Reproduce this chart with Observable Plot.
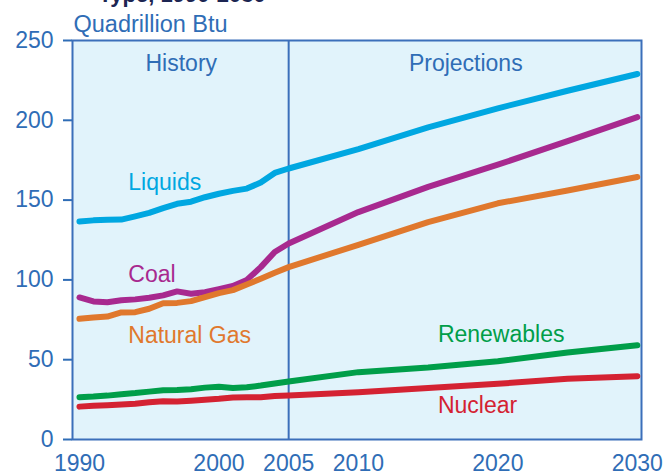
<!DOCTYPE html>
<html>
<head>
<meta charset="utf-8">
<script src="https://cdn.jsdelivr.net/npm/d3@7"></script>
<script src="https://cdn.jsdelivr.net/npm/@observablehq/plot@0.6"></script>
<style>
  html, body { margin: 0; padding: 0; background: #ffffff; }
  #chart svg g[aria-label="y-axis tick"] path, #chart svg g[aria-label="y-axis"] line { stroke-width: 2; }
</style>
</head>
<body>
<div id="chart"></div>
<script>
// ---- Data ----
const years = [1990, 1991, 1992, 1993, 1994, 1995, 1996, 1997, 1998, 1999, 2000, 2001, 2002, 2003, 2004, 2005, 2010, 2015, 2020, 2025, 2030];
const liquids    = [136.6, 137.3, 137.7, 137.8, 139.8, 142.0, 145.0, 147.7, 149.0, 151.8, 154.0, 155.8, 157.2, 161.0, 167.0, 169.8, 182.0, 195.5, 207.5, 218.5, 229.0];
const coal       = [89.0, 86.5, 86.0, 87.2, 87.8, 88.8, 90.3, 92.8, 91.3, 92.3, 94.2, 96.2, 100.0, 108.0, 117.5, 122.8, 142.5, 158.3, 172.2, 187.0, 202.0];
const naturalGas = [75.6, 76.5, 77.0, 79.6, 79.8, 81.9, 85.4, 85.6, 86.7, 89.2, 91.7, 93.6, 97.1, 100.7, 104.5, 108.0, 122.0, 136.2, 148.0, 156.0, 164.5];
const renewables = [26.5, 26.9, 27.5, 28.4, 29.1, 30.0, 30.8, 31.0, 31.5, 32.5, 33.1, 32.2, 32.7, 33.8, 35.1, 36.3, 42.2, 45.1, 49.0, 54.5, 59.0];
const nuclear    = [20.6, 21.1, 21.5, 21.9, 22.4, 23.3, 24.0, 23.8, 24.3, 24.9, 25.5, 26.3, 26.5, 26.5, 27.3, 27.6, 29.6, 32.3, 34.9, 38.0, 39.7];

const seriesNames = ["Liquids", "Coal", "Natural Gas", "Renewables", "Nuclear"];
const seriesValues = [liquids, coal, naturalGas, renewables, nuclear];
const seriesColors = ["#00a7e1", "#a8298f", "#e0782d", "#009e49", "#d42232"];

const xTicks = [1990, 2000, 2005, 2010, 2020, 2030];
const yTicks = [0, 50, 100, 150, 200, 250];
const periodNames = ["History", "Projections"];
const unitLabel = "Quadrillion Btu";
const titleText = "Type, 1990-2030";
const dividerYear = 2005;

// ---- Annotation placement (in data coordinates) ----
const labelYears  = [1993.5, 1993.5, 1993.5, 2015.7, 2015.7];
const labelValues = [161.1, 103.2, 64.8, 65.6, 21.1];
const periodYears = [1997.3, 2017.7];
const periodValue = 235.2;

// ---- Build tables ----
const table = seriesNames.flatMap((s, i) =>
  years.map((yr, j) => ({series: s, year: yr, value: seriesValues[i][j]})));
const labelTable = seriesNames.map((s, i) => ({series: s, year: labelYears[i], value: labelValues[i]}));
const periodTable = periodNames.map((p, i) => ({text: p, year: periodYears[i], value: periodValue}));

const axisBlue = "#2f6db6";
const frameBlue = "#3b6fba";
const bg = "#e1f3fb";

const chart = Plot.plot({
  width: 664,
  height: 475,
  marginLeft: 72,
  marginRight: 23,
  marginTop: 40,
  marginBottom: 36,
  style: {
    fontFamily: "'Liberation Sans', Arial, Helvetica, sans-serif",
    fontSize: "23px",
    color: axisBlue,
    background: "transparent",
    overflow: "visible"
  },
  x: {domain: [1989.5, 2030.3], ticks: xTicks, tickFormat: d => String(d), tickSize: 0, tickPadding: 15, label: null},
  y: {domain: [0, 250], ticks: yTicks, tickSize: 9, tickPadding: 10, label: null},
  color: {domain: seriesNames, range: seriesColors},
  marks: [
    Plot.frame({fill: bg, stroke: frameBlue, strokeWidth: 2}),
    Plot.ruleX([dividerYear], {stroke: frameBlue, strokeWidth: 2}),
    Plot.line(table, {x: "year", y: "value", z: "series", stroke: "series", strokeWidth: 6, strokeLinejoin: "round"}),
    Plot.text(labelTable, {x: "year", y: "value", text: "series", fill: "series", textAnchor: "start", fontSize: 23}),
    Plot.text(periodTable, {x: "year", y: "value", text: "text", fill: axisBlue, textAnchor: "middle", fontSize: 23}),
    Plot.text([unitLabel], {frameAnchor: "top-left", textAnchor: "start", lineAnchor: "middle", dx: 1, dy: -16, fill: axisBlue, fontSize: 23.5}),
    Plot.text([titleText], {frameAnchor: "top-left", textAnchor: "start", lineAnchor: "middle", dx: 26, dy: -46, fill: "#1c2552", fontWeight: "bold", fontSize: 22})
  ]
});
document.getElementById("chart").appendChild(chart);
</script>
</body>
</html>
